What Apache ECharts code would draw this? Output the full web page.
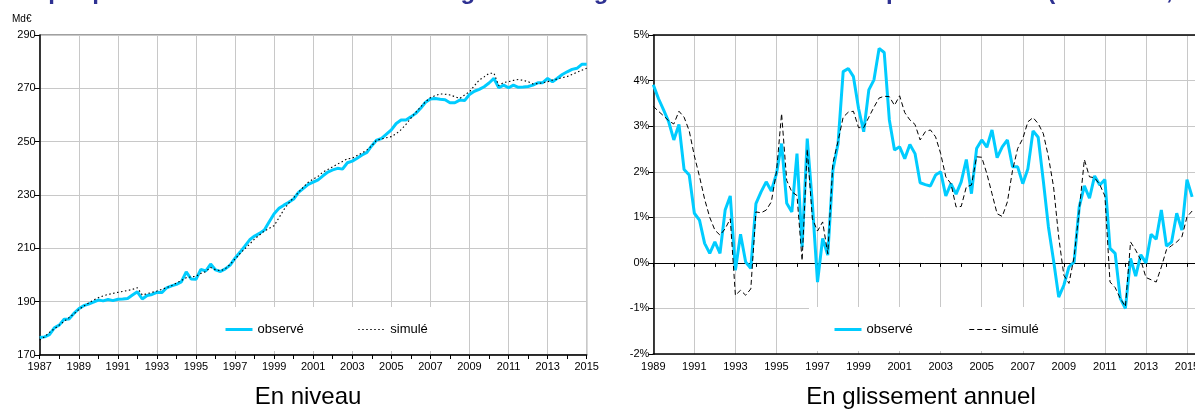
<!DOCTYPE html>
<html><head><meta charset="utf-8">
<script src="https://cdn.jsdelivr.net/npm/echarts@6/dist/echarts.min.js"></script>
<style>html,body{margin:0;padding:0;background:#fff}#c{width:1195px;height:410px}</style>
</head><body><div id="c"></div>
<script>
// ---- data (quarterly) ----
const levelStart = 1987;   // first quarter of level series
const growthStart = 1989;  // first quarter of growth series
const obsLevel = [
 176.6,176.8,177.6,180.2, 181.2,183.4,183.5,185.6, 187.3,188.5,189.1,189.8,
 190.6,190.3,190.8,190.4, 190.9,191.0,191.2,192.5, 193.7,191.0,192.3,192.7,
 193.5,193.4,195.2,195.9, 196.5,197.4,201.2,198.5, 198.4,202.1,201.5,204.1,
 201.9,201.3,202.3,203.7, 206.3,208.5,210.8,213.2, 214.6,215.6,216.9,220.0,
 223.0,225.0,226.2,227.3, 228.5,231.0,232.5,234.0, 234.8,235.7,237.2,238.6,
 239.4,240.0,239.7,242.1, 242.7,243.8,245.0,246.0, 248.5,250.6,251.2,252.8,
 254.4,256.8,258.1,258.1, 259.3,260.6,262.5,264.8, 266.0,266.2,265.9,265.7,
 264.6,264.6,265.6,265.4, 267.7,268.9,269.6,270.6, 272.0,273.7,270.2,271.2,
 270.2,271.2,270.4,270.5, 270.7,271.2,272.1,272.1, 273.7,272.5,273.8,275.2,
 276.2,277.1,277.5,279.0, 279.0
];
const simLevel = [
 175.6,176.8,178.5,179.8, 181.2,182.6,184.0,185.4, 187.0,188.3,189.5,190.6,
 191.5,192.2,192.7,193.1, 193.5,193.8,194.2,194.6, 195.2,192.5,193.0,193.5,
 194.0,194.6,195.3,196.0, 197.0,197.9,199.0,199.3, 199.5,200.6,201.3,202.8,
 202.0,201.6,202.3,204.0, 206.0,208.0,209.8,211.6, 213.5,215.0,216.5,217.5,
 218.5,221.5,224.5,227.0, 229.0,231.0,233.0,234.8, 236.0,237.0,238.6,239.6,
 240.6,241.6,242.6,243.6, 243.8,244.8,245.8,246.9, 248.5,250.6,251.0,251.5,
 251.9,253.0,254.5,256.5, 258.8,261.0,263.0,265.0, 266.5,267.3,267.9,267.8,
 267.5,266.9,266.2,267.5, 268.7,271.0,273.1,274.3, 275.6,275.7,271.0,272.2,
 272.5,273.0,273.3,273.0, 272.5,271.6,271.8,272.1, 272.5,273.1,273.5,274.0,
 274.4,275.2,276.0,276.8, 277.5
];
const obsGrowth = [
 3.91,3.61,3.36,3.10, 2.70,3.04,2.05,1.93, 1.09,0.94,0.43,0.21, 0.46,0.21,1.16,1.47,
 -0.16,0.63,0.02,-0.12, 1.30,1.56,1.78,1.58, 1.96,2.62,1.31,1.12, 2.40,0.35,2.73,1.30,
 -0.42,0.54,0.17,2.04, 2.62,4.20,4.27,4.09, 3.39,2.88,3.80,4.02, 4.71,4.62,3.14,2.48,
 2.55,2.29,2.60,2.40, 1.76,1.72,1.69,1.93, 2.00,1.47,1.74,1.51, 1.78,2.27,1.52,2.51,
 2.70,2.54,2.92,2.31, 2.55,2.70,2.11,2.11, 1.74,2.07,2.90,2.76, 1.80,0.79,0.05,-0.75,
 -0.49,-0.09,0.02,1.23, 1.69,1.42,1.91,1.71, 1.83,0.32,0.21,-0.78, -1.00,0.10,-0.29,0.18,
 0.00,0.63,0.52,1.16, 0.37,0.46,1.09,0.72, 1.83,1.45
];
const simGrowth = [
 3.44,3.33,3.23,3.12, 3.05,3.33,3.20,2.90, 2.35,1.90,1.40,1.00, 0.72,0.61,0.75,0.97,
 -0.71,-0.60,-0.71,-0.57, 1.12,1.10,1.16,1.34, 2.00,3.28,1.81,1.56, 1.48,0.05,2.50,0.97,
 0.70,0.90,0.20,2.19, 2.67,3.20,3.31,3.33, 2.97,2.97,3.20,3.42, 3.62,3.66,3.65,3.46,
 3.67,3.30,3.14,3.04, 2.70,2.88,2.92,2.77, 2.40,1.89,1.74,1.23, 1.24,1.67,1.71,2.33,
 2.32,1.96,1.52,1.08, 1.02,1.34,2.03,2.51, 2.73,3.10,3.19,3.06, 2.84,2.33,1.67,0.57,
 -0.27,-0.45,0.13,1.15, 2.27,1.89,1.87,1.72, 1.47,-0.42,-0.54,-0.78, -0.96,0.46,0.28,0.06,
 -0.32,-0.37,-0.42,-0.09, 0.29,0.38,0.46,0.57, 1.01,1.14
];
const levelYTicks = [170,190,210,230,250,270,290];
const growthYTicks = [-2,-1,0,1,2,3,4,5];
const levelXRange = [1987, 2015];
const growthXRange = [1989, 2015.39];   // right panel is cropped by the picture edge
const legendLabels = {obsL:'observé', simL:'simulé', obsG:'observé', simG:'simulé'};
const mainTitle = "Graphique 5 : Consommation des ménages en énergie : observée et simulée par le modèle (en niveau, en glissement annuel)";

const toPairs = (arr, start) => arr.map((v, i) => [start + i / 4, v]);

const FONT = 'Liberation Sans, Arial, sans-serif';
const GRID_C = '#C8C8C8';
const CYAN = '#00CCFF';

const lbl = {fontSize: 11, color: '#000', fontFamily: FONT};
const gAxisBase = {gridIndex: 1, type: 'value', min: growthXRange[0], max: growthXRange[1], interval: 2};

const chart = echarts.init(document.getElementById('c'), null, {renderer: 'canvas'});
chart.setOption({
  animation: false,
  backgroundColor: '#fff',
  grid: [
    {left: 39.7, right: 608.3, top: 35, bottom: 55, show: true, borderColor: '#404040', borderWidth: 1,
     containLabel: false, outerBoundsMode: 'none'},
    {left: 653.3, right: 0, top: 35.2, bottom: 56, show: false,
     containLabel: false, outerBoundsMode: 'none'}
  ],
  xAxis: [
    {gridIndex: 0, type: 'value', min: levelXRange[0], max: levelXRange[1], interval: 2,
     axisLine: {show: true, onZero: false, lineStyle: {color: '#000', width: 1.5}},
     axisTick: {show: true, length: 4, lineStyle: {color: '#000'}},
     minorTick: {show: true, splitNumber: 2, length: 4, lineStyle: {color: '#000'}},
     axisLabel: Object.assign({margin: 6, formatter: v => String(v)}, lbl),
     splitLine: {show: true, lineStyle: {color: GRID_C, width: 1}}},
    Object.assign({position: 'bottom',
     axisLine: {show: true, onZero: false, lineStyle: {color: '#000', width: 1.5}},
     axisTick: {show: false},
     axisLabel: Object.assign({margin: 7, showMaxLabel: false, formatter: v => (Number.isInteger(v) && v % 2 === 1 ? String(v) : '')}, lbl),
     splitLine: {show: true, showMaxLine: false, lineStyle: {color: GRID_C, width: 1}}}, gAxisBase),
    Object.assign({position: 'bottom',
     axisLine: {show: true, onZero: true, lineStyle: {color: '#000', width: 1}},
     axisTick: {show: true, length: 4, lineStyle: {color: '#000'}},
     minorTick: {show: true, splitNumber: 2, length: 4, lineStyle: {color: '#000'}},
     axisLabel: {show: false},
     splitLine: {show: false}}, gAxisBase),
    Object.assign({position: 'top',
     axisLine: {show: true, onZero: false, lineStyle: {color: '#000', width: 1.5}},
     axisTick: {show: false}, axisLabel: {show: false}, splitLine: {show: false}}, gAxisBase)
  ],
  yAxis: [
    {gridIndex: 0, type: 'value', min: levelYTicks[0], max: levelYTicks[levelYTicks.length - 1], interval: 20,
     axisLine: {show: true, lineStyle: {color: '#000', width: 1.5}},
     axisTick: {show: true, length: 5, lineStyle: {color: '#000'}},
     axisLabel: Object.assign({margin: 4}, lbl),
     splitLine: {show: true, lineStyle: {color: GRID_C, width: 1}}},
    {gridIndex: 1, type: 'value', min: growthYTicks[0], max: growthYTicks[growthYTicks.length - 1], interval: 1,
     axisLine: {show: true, onZero: false, lineStyle: {color: '#000', width: 1.5}},
     axisTick: {show: true, length: 5, lineStyle: {color: '#000'}},
     axisLabel: Object.assign({margin: 4, formatter: '{value}%'}, lbl),
     splitLine: {show: true, lineStyle: {color: GRID_C, width: 1}}}
  ],
  legend: [
    {data: [{name: 'obsL', lineStyle: {width: 3}}, {name: 'simL', lineStyle: {width: 1}}],
     left: 200, top: 307, padding: [16, 24, 15, 24], itemGap: 54,
     itemWidth: 27, itemHeight: 10, backgroundColor: '#fff', selectedMode: false,
     itemStyle: {opacity: 0},
     formatter: n => legendLabels[n], textStyle: {fontSize: 13, color: '#000', fontFamily: FONT}},
    {data: [{name: 'obsG', lineStyle: {width: 3}}, {name: 'simG', lineStyle: {width: 1}}],
     left: 809, top: 307, padding: [16, 24, 15, 24], itemGap: 56,
     itemWidth: 27, itemHeight: 10, backgroundColor: '#fff', selectedMode: false,
     itemStyle: {opacity: 0},
     formatter: n => legendLabels[n], textStyle: {fontSize: 13, color: '#000', fontFamily: FONT}}
  ],
  series: [
    {name: 'obsL', type: 'line', xAxisIndex: 0, yAxisIndex: 0, data: toPairs(obsLevel, levelStart),
     symbol: 'none', showSymbol: false, lineStyle: {color: CYAN, width: 3}, itemStyle: {color: CYAN}},
    {name: 'simL', type: 'line', xAxisIndex: 0, yAxisIndex: 0, data: toPairs(simLevel, levelStart),
     symbol: 'none', showSymbol: false, lineStyle: {color: '#000', width: 1.1, type: [1.5, 2.5]}, itemStyle: {color: '#000'}},
    {name: 'obsG', type: 'line', xAxisIndex: 1, yAxisIndex: 1, data: toPairs(obsGrowth, growthStart),
     symbol: 'none', showSymbol: false, lineStyle: {color: CYAN, width: 3}, itemStyle: {color: CYAN}},
    {name: 'simG', type: 'line', xAxisIndex: 1, yAxisIndex: 1, data: toPairs(simGrowth, growthStart),
     symbol: 'none', showSymbol: false, lineStyle: {color: '#000', width: 1, type: [5, 3]}, itemStyle: {color: '#000'}}
  ],
  graphic: [
    {type: 'text', left: 7, top: -20, silent: true,
     style: {text: mainTitle, fontSize: 24, fontWeight: 'bold', fill: '#2E3192', fontFamily: FONT}},
    {type: 'text', left: 12, top: 14, silent: true,
     style: {text: 'Md€', fontSize: 10, fill: '#000', fontFamily: FONT}},
    {type: 'text', x: 308, y: 397, silent: true,
     style: {text: 'En niveau', fontSize: 24, fill: '#000', fontFamily: FONT, align: 'center', verticalAlign: 'middle'}},
    {type: 'text', x: 921, y: 397, silent: true,
     style: {text: 'En glissement annuel', fontSize: 24, fill: '#000', fontFamily: FONT, align: 'center', verticalAlign: 'middle'}}
  ]
});
</script>
</body></html>
